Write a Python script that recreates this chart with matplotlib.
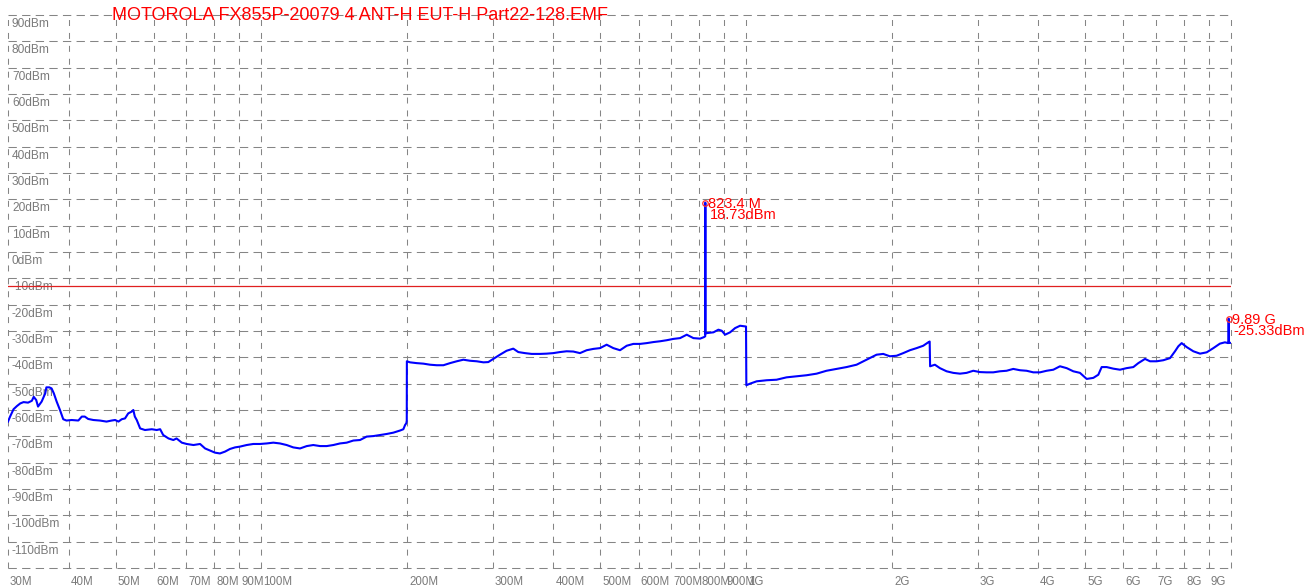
import matplotlib
matplotlib.use('Agg')
import matplotlib.pyplot as plt
import matplotlib.transforms as mtransforms
from matplotlib.ticker import NullLocator

plt.rcParams['font.family'] = ['Liberation Sans', 'DejaVu Sans']
plt.rcParams['lines.scale_dashes'] = False

# ---------------- data ----------------
title = "MOTOROLA FX855P-20079 4 ANT-H EUT-H Part22-128.EMF"

# measured trace: frequency in MHz, level in dBm
freq_mhz = [
    30.0, 30.3, 30.8, 31.3, 31.8, 32.3, 33.0, 33.6, 33.9, 34.3, 34.6, 35.2, 35.8, 36.0, 36.5,
    36.9, 37.3, 37.8, 38.4, 39.0, 39.6, 40.6, 41.9, 42.6, 43.2, 43.9, 45.0, 46.4, 47.9, 49.1,
    49.9, 50.7, 51.5, 52.3, 53.1, 54.0, 54.4, 54.8, 55.3, 56.2, 57.5, 59.4, 60.8, 61.8, 62.7,
    64.3, 65.8, 66.8, 68.5, 70.1, 72.4, 74.7, 76.5, 78.3, 80.2, 82.1, 84.1, 86.1, 88.2, 90.3,
    93.2, 96.2, 99.3, 102.5, 105.8, 109.2, 112.7, 116.3, 120.1, 124.0, 127.9, 132.1, 136.3,
    140.7, 145.2, 149.9, 154.7, 159.7, 164.8, 170.2, 175.6, 181.3, 187.1, 193.1, 196.2, 197.8,
    199.0, 199.4,
    199.5, 202.5, 209.0, 215.8, 222.7, 229.9, 237.3, 244.9, 252.8, 260.9, 269.3, 278.0, 287.0,
    293.7, 300.8, 310.4, 320.4, 330.7, 338.7, 349.6, 360.8, 375.4, 387.5, 399.9, 412.8, 426.1,
    439.8, 454.0, 468.6, 483.7, 499.3, 515.3, 531.9, 549.1, 566.8, 585.0, 603.8, 623.3, 643.4,
    664.1, 685.5, 707.5, 730.3, 753.8, 778.1, 803.2, 818.6, 823.0, 823.4, 823.8, 829.0, 855.7,
    876.2, 890.2, 904.4, 926.2, 948.4, 971.2, 989.8, 999.0,
    1000.5, 1018, 1051, 1102, 1155, 1211, 1270, 1332, 1397, 1464, 1536, 1610, 1689, 1771, 1857,
    1917, 1978, 2042, 2108, 2176, 2246, 2318, 2374, 2390, 2395, 2450, 2509, 2590, 2673, 2760,
    2848, 2940, 3035, 3132, 3233, 3337, 3444, 3555, 3670, 3788, 3910, 4036, 4166, 4300, 4438,
    4581, 4728, 4880, 5038, 5200, 5325, 5410, 5540, 5718, 5902, 6092, 6288, 6439, 6647, 6806,
    7025, 7251, 7485, 7665, 7787, 7911, 8101, 8362, 8632, 8909, 9196, 9487, 9715, 9870, 9885,
    9890, 9895, 9950,
]
level_dbm = [
    -64.4, -62.5, -59.7, -58.5, -57.5, -57.0, -57.2, -56.5, -55.0, -56.2, -58.7, -56.8, -53.7, -51.4, -51.4,
    -51.8, -53.7, -56.8, -60.0, -63.5, -64.0, -63.8, -64.0, -62.5, -62.5, -63.4, -63.8, -64.0, -64.4, -64.0,
    -63.8, -64.4, -63.5, -63.2, -61.3, -60.6, -60.0, -62.5, -63.8, -67.0, -67.6, -67.3, -67.6, -67.3, -69.5,
    -70.8, -71.4, -70.8, -72.4, -72.9, -73.3, -72.9, -74.6, -75.4, -76.2, -76.5, -75.8, -74.8, -74.2, -73.9,
    -73.3, -72.9, -72.9, -72.7, -72.4, -72.7, -73.3, -74.2, -74.6, -73.7, -73.3, -73.7, -73.7,
    -73.3, -72.7, -72.4, -71.6, -71.4, -70.1, -69.9, -69.5, -69.1, -68.6, -67.8, -67.3, -65.7,
    -65.0, -64.0,
    -41.5, -41.9, -42.2, -42.4, -42.8, -43.0, -43.0, -42.2, -41.5, -40.9, -41.3, -41.5, -41.9,
    -41.8, -40.6, -39.0, -37.5, -36.7, -38.0, -38.4, -38.7, -38.7, -38.6, -38.4, -38.0, -37.7,
    -37.8, -38.4, -37.3, -36.8, -36.5, -35.2, -36.5, -37.3, -35.6, -34.9, -34.9, -34.6, -34.2,
    -33.9, -33.5, -33.0, -32.7, -31.4, -32.7, -32.9, -32.3, -32.0, 18.73, -31.0, -30.8, -30.5,
    -29.5, -29.9, -31.4, -30.5, -28.9, -28.0, -28.2, -28.3,
    -50.6, -50.0, -49.1, -48.7, -48.5, -47.6, -47.2, -46.8, -46.2, -45.1, -44.4, -43.7, -42.8, -40.9, -39.0,
    -38.7, -39.6, -39.4, -38.4, -37.3, -36.5, -35.6, -34.3, -34.0, -43.4, -42.8, -44.1, -45.3, -45.9, -46.2,
    -45.9, -45.1, -45.6, -45.7, -45.7, -45.3, -45.1, -44.4, -44.9, -45.1, -45.7, -45.7, -45.1, -44.7, -43.4,
    -44.1, -45.3, -45.9, -48.2, -47.8, -46.6, -43.7, -43.7, -44.3, -44.7, -44.1, -43.7, -42.2, -40.6, -41.5,
    -41.5, -41.1, -40.3, -37.7, -35.8, -34.6, -36.1, -37.7, -38.6, -38.1, -36.5, -34.8, -34.3, -34.6, -34.5,
    -25.33, -34.5, -34.5,
]

limit_dbm = -13.0

marker_freq_mhz = [823.4, 9890.0]
marker_level_dbm = [18.73, -25.33]
marker_freq_text = ["823.4 M", "9.89 G"]
marker_level_text = ["18.73dBm", "-25.33dBm"]

x_grid_mhz = [30, 40, 50, 60, 70, 80, 90, 100, 200, 300, 400, 500, 600, 700, 800, 900,
              1000, 2000, 3000, 4000, 5000, 6000, 7000, 8000, 9000, 10000]
x_tick_labels = ["30M", "40M", "50M", "60M", "70M", "80M", "90M", "100M", "200M", "300M",
                 "400M", "500M", "600M", "700M", "800M", "900M", "1G", "2G", "3G", "4G",
                 "5G", "6G", "7G", "8G", "9G"]
y_grid_dbm = list(range(90, -121, -10))
y_tick_labels = [f"{v}dBm" for v in range(90, -111, -10)]

# ---------------- figure ----------------
W, H = 1304, 588
fig = plt.figure(figsize=(W / 100, H / 100), dpi=100)
L, R, T, B = 8, 1231, 15, 568
ax = fig.add_axes([L / W, 1 - B / H, (R - L) / W, (B - T) / H])
ax.set_xscale('log')
ax.set_xlim(30, 10000)
ax.set_ylim(-120, 90)
for s in ax.spines.values():
    s.set_visible(False)
ax.set_xticks([])
ax.set_yticks([])
ax.xaxis.set_minor_locator(NullLocator())

grid_col = '#858585'
for yv in y_grid_dbm:
    ax.axhline(yv, color=grid_col, lw=0.75, dashes=(6.0, 3.8), clip_on=False, zorder=1)
for xv in x_grid_mhz:
    ax.axvline(xv, color=grid_col, lw=0.75, dashes=(4.3, 5.0), clip_on=False, zorder=1)

# y labels (inside, just below each grid line)
ytrans = mtransforms.offset_copy(ax.get_yaxis_transform(), fig=fig, x=4, y=-3, units='dots')
for yv, lab in zip(range(90, -111, -10), y_tick_labels):
    ax.text(0, yv, lab, transform=ytrans, ha='left', va='top', fontsize=8.6,
            color='#7a7a7a', zorder=2)

# x labels (below axes, right of each line)
xtrans = mtransforms.offset_copy(ax.get_xaxis_transform(), fig=fig, x=2, y=-8, units='dots')
for xv, lab in zip(x_grid_mhz, x_tick_labels):
    ax.text(xv, 0, lab, transform=xtrans, ha='left', va='top', fontsize=8.3,
            color='#7a7a7a', clip_on=False)

# limit line
ax.axhline(limit_dbm, color='#e02020', lw=0.9, zorder=3)

# trace
ax.plot(freq_mhz, level_dbm, color='#0000ff', lw=1.5, zorder=4)

# markers
for f, v, ft, vt in zip(marker_freq_mhz, marker_level_dbm, marker_freq_text, marker_level_text):
    ax.plot([f], [v], marker='o', ms=4, mfc='none', mec='#ff3030', mew=0.9, zorder=5, clip_on=False)
    t1 = mtransforms.offset_copy(ax.transData, fig=fig, x=3, y=-1, units='dots')
    ax.text(f, v, ft, transform=t1, ha='left', va='center', fontsize=10.5, color='#ff0000',
            zorder=6, clip_on=False)
    t2 = mtransforms.offset_copy(ax.transData, fig=fig, x=5, y=-12, units='dots')
    ax.text(f, v, vt, transform=t2, ha='left', va='center', fontsize=10.5, color='#ff0000',
            zorder=6, clip_on=False)

# title
fig.text(112 / W, 1 - 15 / H, title, ha='left', va='center', fontsize=13, color='#ff0000',
         zorder=10)

fig.savefig('out.png', dpi=100)
